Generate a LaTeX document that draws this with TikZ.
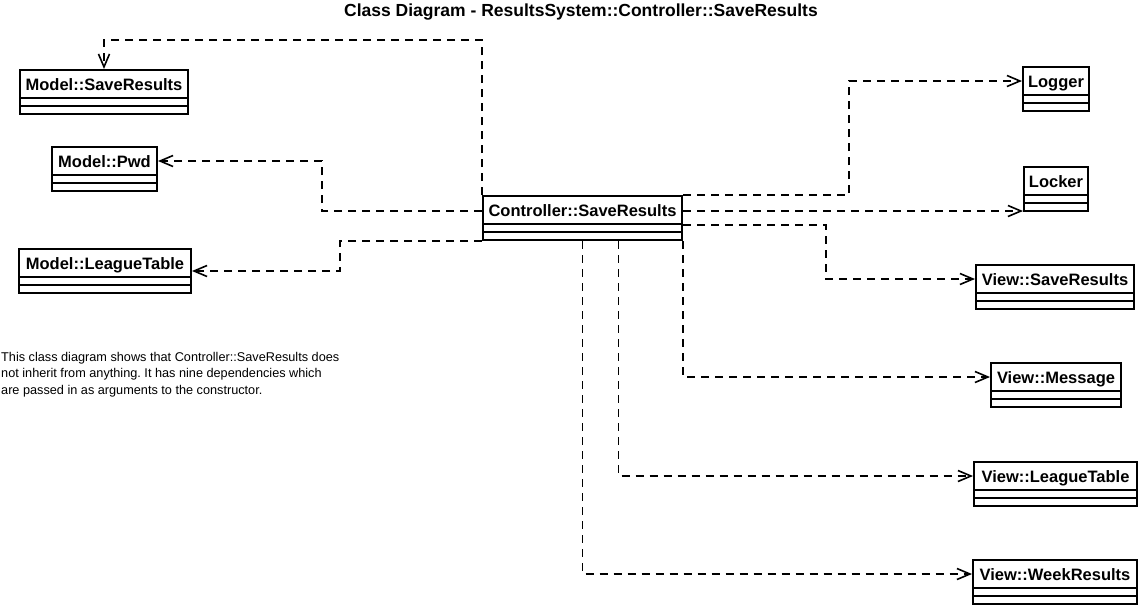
\documentclass[tikz,border=0pt]{standalone}
\usepackage{fontspec}
\setmainfont{Liberation Sans}
\usetikzlibrary{arrows.meta}
\frenchspacing

\begin{document}
\begin{tikzpicture}[x=1pt, y={(0,-1pt)},
    umlclass/.style={draw, line width=2pt, anchor=north west,
        minimum height=44pt, inner xsep=0pt, inner ysep=0pt,
        text height=12pt, text depth=16pt,
        font=\bfseries\fontsize{16.5}{18}\selectfont,
        path picture={
            \draw[line width=2pt]
                ([yshift=-28pt]path picture bounding box.north west) -- ([yshift=-28pt]path picture bounding box.north east)
                ([yshift=-36pt]path picture bounding box.north west) -- ([yshift=-36pt]path picture bounding box.north east);
        }},
    dep/.style={line width=1.6pt, dash pattern=on 8pt off 6pt,
        -{Straight Barb[length=13pt,width=11pt,line width=1.6pt]}}]

    \useasboundingbox (0,0) rectangle (1140,606);

    % Title
    \node[font=\bfseries\fontsize{17.5}{20}\selectfont] (title) at (581,12)
        {Class Diagram - ResultsSystem::Controller::SaveResults};

    % Draw the classes
    \node[umlclass, minimum width=168pt] (msave) at (19,69) {Model::SaveResults};
    \node[umlclass, minimum width=105pt] (mpwd) at (51,146) {Model::Pwd};
    \node[umlclass, minimum width=172pt] (mleague) at (18,248) {Model::LeagueTable};
    \node[umlclass, minimum width=199pt] (ctrl) at (482,195) {Controller::SaveResults};
    \node[umlclass, minimum width=66pt] (logger) at (1022,66) {Logger};
    \node[umlclass, minimum width=64pt] (locker) at (1023,166) {Locker};
    \node[umlclass, minimum width=158pt] (vsave) at (975,264) {View::SaveResults};
    \node[umlclass, minimum width=130pt] (vmsg) at (990,362) {View::Message};
    \node[umlclass, minimum width=163pt] (vleague) at (973,461) {View::LeagueTable};
    \node[umlclass, minimum width=164pt] (vweek) at (972,559) {View::WeekResults};

    % Dependencies on the model classes
    \draw[dep] (ctrl.north west) -- ++(0,-155) -| (msave.north);
    \draw[dep] ([yshift=7pt]ctrl.west) -- ++(-160,0) |- ([yshift=8pt]mpwd.east);
    \draw[dep] (ctrl.south west) -- ++(-142,0) |- (mleague.east);

    % Dependencies on logger and locker
    \draw[dep] (ctrl.north east) -- ++(166,0) |- ([yshift=8pt]logger.west);
    \draw[dep] ([yshift=7pt]ctrl.east) -- ([yshift=7pt]ctrl.east -| locker.west);

    % Dependencies on the view classes
    \draw[dep] ([yshift=-7pt]ctrl.east) -- ++(143,0) |- ([yshift=8pt]vsave.west);
    \draw[dep] (ctrl.south east) |- ([yshift=8pt]vmsg.west);
    \draw[dep] ([xshift=36pt]ctrl.south) |- ([yshift=8pt]vleague.west);
    \draw[dep] (ctrl.south) |- ([yshift=8pt]vweek.west);

    % Note
    \node[align=left, anchor=north west, inner sep=0pt,
        font=\fontsize{12.7}{16.5}\selectfont] (note) at (1,352)
        {This class diagram shows that Controller::SaveResults does\\
         not inherit from anything. It has nine dependencies which\\
         are passed in as arguments to the constructor.};
\end{tikzpicture}
\end{document}
